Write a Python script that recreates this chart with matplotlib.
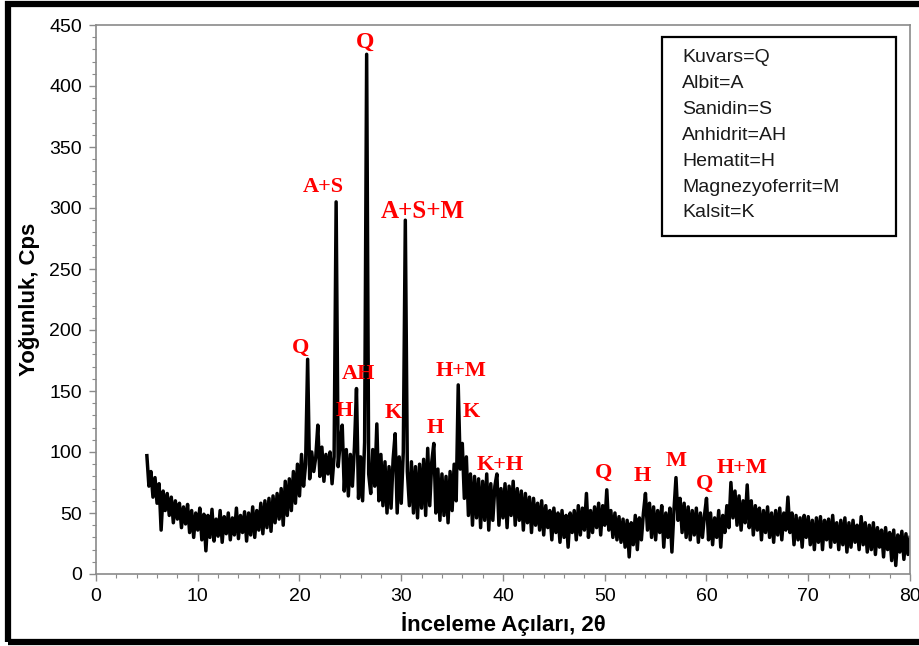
import matplotlib
matplotlib.use("Agg")
import matplotlib.pyplot as plt
from matplotlib import font_manager
from matplotlib.patches import Rectangle
import numpy as np

# XRD counts, one value every 0.2 degrees from 5.0 to 80.0
counts = [
    97, 72, 84, 63, 79,   58, 74, 36, 68, 52,   66, 48, 63, 42, 60,   45, 58, 38, 55, 41,   # 5-8
    57, 34, 52, 30, 50,   36, 54, 28, 49, 19,   48, 30, 53, 27, 45,   31, 52, 26, 47, 33,   # 9-12
    50, 28, 46, 32, 54,   29, 48, 34, 51, 27,   50, 32, 55, 30, 52,   36, 58, 33, 60, 38,   # 13-16
    62, 35, 64, 42, 66,   45, 70, 40, 76, 48,   78, 52, 84, 58, 90,   64, 98, 72, 90, 176,  # 17-20
    78, 100, 84, 96, 122, 80, 104, 76, 98, 82,  100, 74, 96, 305, 88, 108, 122, 68, 102, 64,  # 21-24
    98, 72, 104, 152, 62, 96, 60, 108, 426, 82,  66, 102, 72, 123, 60, 98, 56, 92, 50, 88,   # 25-28
    54, 94, 115, 50, 96,  58, 100, 290, 84, 56,  92, 50, 88, 46, 90,   54, 94, 48, 103, 56,  # 29-32
    92, 107, 50, 86, 44,  82, 48, 80, 42, 84,   52, 90, 60, 155, 86,  107, 62, 96, 48, 82,  # 33-36
    40, 80, 46, 78, 38,   76, 44, 82, 36, 74,   44, 72, 82, 40, 70,   46, 74, 38, 72, 48,   # 37-40
    76, 40, 70, 44, 68,   36, 66, 42, 63, 34,   62, 40, 58, 36, 60,   32, 56, 38, 52, 28,   # 41-44
    54, 34, 50, 26, 52,   30, 48, 22, 50, 34,   52, 28, 56, 32, 54,   36, 66, 30, 52, 34,   # 45-48
    55, 38, 58, 32, 56,   40, 69, 36, 52, 30,   50, 28, 47, 26, 45,   22, 44, 14, 42, 24,   # 49-52
    48, 20, 46, 28, 50,   66, 36, 58, 30, 55,   28, 52, 34, 56, 22,   50, 30, 54, 18, 52,   # 53-56
    79, 44, 62, 34, 58,   30, 55, 28, 52, 32,   54, 26, 50, 30, 48,   62, 28, 50, 24, 46,   # 57-60
    30, 52, 22, 48, 34,   56, 38, 75, 46, 68,   40, 64, 36, 60, 42,   73, 38, 60, 32, 56,   # 61-64
    36, 54, 28, 52, 34,   55, 30, 50, 26, 52,   32, 54, 28, 50, 36,   63, 34, 50, 24, 48,   # 65-68
    28, 46, 22, 48, 30,   47, 24, 44, 20, 46,   26, 47, 20, 44, 28,   45, 22, 48, 26, 42,   # 69-72
    20, 44, 24, 46, 18,   42, 22, 44, 26, 40,   20, 47, 24, 42, 18,   40, 20, 42, 16, 38,   # 73-76
    22, 36, 14, 38, 20,   34, 11, 36, 7, 32,    18, 35, 12, 33, 16,   30,                   # 77-80
]
two_theta = np.linspace(5, 80, len(counts))

# phase labels: text, angle, height, size
peak_labels = ["Q", "A+S", "A+S+M", "Q", "AH", "H", "K", "H+M", "H", "K",
               "K+H", "Q", "H", "M", "Q", "H+M"]
label_x = [26.4, 22.3, 32.1, 20.1, 25.8, 24.4, 29.2, 35.9, 33.3, 36.9,
           39.7, 49.9, 53.7, 57.0, 59.8, 63.5]
label_y = [436, 317, 297, 185, 164, 134, 132, 166, 120, 133,
           89, 83, 80, 93, 74, 87]
label_size = [17, 16, 18, 16, 16, 16, 16, 16, 16, 16, 16, 16, 16, 16, 16, 16]

legend_lines = ["Kuvars=Q", "Albit=A", "Sanidin=S", "Anhidrit=AH",
                "Hematit=H", "Magnezyoferrit=M", "Kalsit=K"]

installed = {f.name for f in font_manager.fontManager.ttflist}
narrow = "Liberation Sans Narrow" if "Liberation Sans Narrow" in installed else "Liberation Sans"

fig = plt.figure(figsize=(9.2, 6.46), dpi=100)
ax = fig.add_axes([96 / 920, 1 - 574 / 646, (910 - 96) / 920, (574 - 25) / 646])

ax.plot(two_theta, counts, color="black", lw=2.5)

ax.set_xlim(0, 80)
ax.set_ylim(0, 450)
ax.set_xticks(np.arange(0, 81, 10))
ax.set_yticks(np.arange(0, 451, 50))
ax.set_xticks(np.arange(0, 81, 2), minor=True)
ax.set_yticks(np.arange(0, 451, 10), minor=True)
for sp in ax.spines.values():
    sp.set_color("#8a8a8a")
    sp.set_linewidth(1.2)
ax.tick_params(which="both", direction="out", color="#8a8a8a")
ax.tick_params(which="major", length=5, width=1, labelsize=14, pad=5)
ax.tick_params(which="minor", length=3, width=0.8)
for lab in ax.get_xticklabels() + ax.get_yticklabels():
    lab.set_fontfamily(narrow)

ax.set_xlabel("İnceleme Açıları, 2θ", fontsize=16, fontweight="bold",
              family=[narrow, "DejaVu Sans"], labelpad=5)
ax.set_ylabel("Yoğunluk, Cps", fontsize=16, fontweight="bold",
              family="Liberation Sans", labelpad=7)

for t, x, y, s in zip(peak_labels, label_x, label_y, label_size):
    ax.text(x, y, t, color="red", fontsize=s, fontweight="bold",
            family="Liberation Serif", ha="center", va="center")

# phase key box
box_x0, box_y0 = (662 - 96) / 814, (574 - 236) / 549
box_w, box_h = (896 - 662) / 814, (236 - 37) / 549
ax.add_patch(Rectangle((box_x0, box_y0), box_w, box_h, transform=ax.transAxes,
                       fill=False, ec="black", lw=1.6, zorder=5))
for i, line in enumerate(legend_lines):
    ax.text((682 - 96) / 814, (574 - 58 - i * 25.8) / 549, line,
            transform=ax.transAxes, fontsize=14, family="Liberation Sans",
            color="#1a1a1a", ha="left", va="center")

# thick frame round the picture
fig.add_artist(Rectangle((8 / 920, 4 / 646), 1.0, 638 / 646, transform=fig.transFigure,
                         fill=False, ec="black", lw=4.5, clip_on=False))

fig.savefig("out.png", dpi=100)
